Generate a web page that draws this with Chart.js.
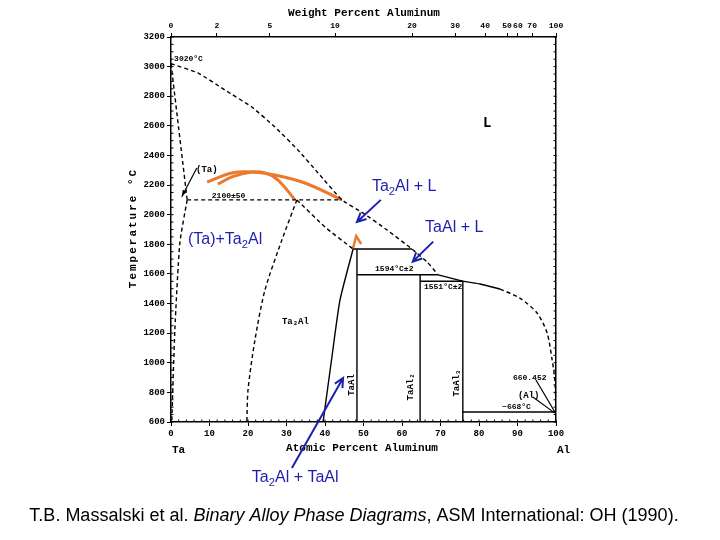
<!DOCTYPE html>
<html>
<head>
<meta charset="utf-8">
<script src="https://cdn.jsdelivr.net/npm/chart.js@4.4.0/dist/chart.umd.min.js"></script>
<style>
  html, body { margin: 0; background: #fff; }
  #wrap { width: 720px; height: 540px; }
</style>
</head>
<body>
<div id="wrap"><canvas id="chart"></canvas></div>
<script>
"use strict"

// phase boundaries, [atomic % Al, temperature C]
const liquidus = [[0, 3020], [7, 2957], [14, 2842], [21, 2727], [27, 2592], [33, 2436], [38.2, 2282], [44.4, 2100],
  [49.9, 2011], [56.1, 1897], [62.6, 1768], [66.5, 1681], [69.4, 1594]]
const liquidusAl = [[69.4, 1594], [75.8, 1551], [80.3, 1532], [85.5, 1498]]
const liquidusAlDash = [[85.5, 1498], [90.6, 1437], [95.1, 1336], [97.7, 1201], [99.0, 1019], [99.7, 884], [100, 668]]
const solidusTa = [[0, 3020], [4.2, 2100]]
const solvusTa = [[4.2, 2100], [2.3, 1809], [1.0, 1221], [0.2, 600]]
const peritectic2100 = [[4.2, 2100], [44.4, 2100]]
const ta2alLeft = [[32.7, 2100], [28.8, 1829], [24.4, 1491], [21.8, 1154], [20.0, 816], [19.7, 600]]
const ta2alTop = [[32.7, 2100], [40, 1917], [47.3, 1768]]
const ta2alRight = [[47.3, 1768], [43.9, 1424], [41.8, 1039], [39.5, 600]]
const line1768 = [[47.3, 1768], [62.6, 1768]]
const taAl = [[48.3, 1768], [48.3, 600]]
const line1594 = [[48.3, 1594], [69.4, 1594]]
const taAl2 = [[64.7, 1594], [64.7, 600]]
const line1551 = [[64.7, 1551], [75.8, 1551]]
const taAl3 = [[75.8, 1551], [75.8, 600]]
const line668 = [[75.8, 668], [100, 668]]

// orange hand drawn corrections
const orangeA = [[9.4, 2221], [15.8, 2282], [21.0, 2288], [27.0, 2268], [34.8, 2214], [44.4, 2100]]
const orangeB = [[12.2, 2207], [15.8, 2255], [21.0, 2288], [24.4, 2282], [27.8, 2234], [32.2, 2100]]
const orangeCaret = [[47.3, 1775], [48.1, 1856], [49.4, 1802]]

// blue arrows [from, to]
const arrowTa2AlL = [[54.5, 2100], [48.3, 1951]]
const arrowTaAlL = [[68.1, 1818], [62.8, 1683]]
const arrowTa2AlTaAl = [[31.4, 289], [44.7, 897]]

// axes
const tempTicks = [600, 800, 1000, 1200, 1400, 1600, 1800, 2000, 2200, 2400, 2600, 2800, 3000, 3200]
const wtTickLabels = ['0', '2', '5', '10', '20', '30', '40', '50', '60', '70', '100']
const wtTickAt = [0, 11.9, 25.7, 42.6, 62.6, 73.8, 81.6, 87.3, 90.1, 93.8, 100]

const MONO = "'Liberation Mono', 'DejaVu Sans Mono', monospace"
const SANS = "'Liberation Sans', Arial, sans-serif"
const BLUE = '#1f1fae'
const ORANGE = '#ec7a2c'

function pts(arr) {
  return arr.map(p => ({x: p[0], y: p[1]}))
}

function boundary(arr, dashed, tension) {
  return {
    data: pts(arr),
    showLine: true,
    borderColor: '#000',
    borderWidth: 1.4,
    borderDash: dashed ? [4, 3] : [],
    pointRadius: 0,
    tension: tension || 0,
  }
}

function orange(arr) {
  return {
    data: pts(arr),
    showLine: true,
    borderColor: ORANGE,
    borderWidth: 3,
    pointRadius: 0,
    tension: 0.35,
  }
}

function richText(ctx, parts, x, y, size) {
  let cx = x
  for (let p of parts) {
    if (p.sub) {
      ctx.font = (size * 0.7) + "px " + SANS
      ctx.fillText(p.t, cx, y + size * 0.3)
    } else {
      ctx.font = size + "px " + SANS
      ctx.fillText(p.t, cx, y)
    }
    cx += ctx.measureText(p.t).width
  }
}

function arrow(ctx, a, sx, sy) {
  let x1 = sx.getPixelForValue(a[0][0]), y1 = sy.getPixelForValue(a[0][1])
  let x2 = sx.getPixelForValue(a[1][0]), y2 = sy.getPixelForValue(a[1][1])
  let ang = Math.atan2(y2 - y1, x2 - x1)
  ctx.beginPath()
  ctx.moveTo(x1, y1)
  ctx.lineTo(x2, y2)
  ctx.moveTo(x2 - 10 * Math.cos(ang - 0.45), y2 - 10 * Math.sin(ang - 0.45))
  ctx.lineTo(x2, y2)
  ctx.lineTo(x2 - 10 * Math.cos(ang + 0.45), y2 - 10 * Math.sin(ang + 0.45))
  ctx.stroke()
}

const decorations = {
  id: 'decorations',
  afterDraw(chart) {
    const ctx = chart.ctx
    const sx = chart.scales.x
    const sy = chart.scales.y
    const X = v => sx.getPixelForValue(v)
    const Y = v => sy.getPixelForValue(v)
    const area = chart.chartArea
    ctx.save()

    // minor ticks
    ctx.strokeStyle = '#000'
    ctx.lineWidth = 1
    ctx.beginPath()
    for (let v = 0; v <= 100; v += 2) {
      ctx.moveTo(X(v), area.bottom)
      ctx.lineTo(X(v), area.bottom - 2.5)
    }
    for (let t = 600; t <= 3200; t += 50) {
      ctx.moveTo(area.left, Y(t))
      ctx.lineTo(area.left + 2.5, Y(t))
      ctx.moveTo(area.right, Y(t))
      ctx.lineTo(area.right - 2.5, Y(t))
    }
    ctx.stroke()

    // axis titles
    ctx.fillStyle = '#000'
    ctx.font = "bold 11px " + MONO
    ctx.textAlign = 'center'
    ctx.textBaseline = 'middle'
    ctx.fillText('Weight Percent Aluminum', 364, 13)
    ctx.fillText('Atomic Percent Aluminum', 362, 448)
    ctx.textAlign = 'left'
    ctx.fillText('Ta', 172, 450)
    ctx.fillText('Al', 557, 450)

    ctx.save()
    ctx.translate(133, 228)
    ctx.rotate(-Math.PI / 2)
    ctx.textAlign = 'center'
    ctx.font = "bold 11px " + MONO
    ctx.letterSpacing = '2px'
    ctx.fillText('Temperature \u00b0C', 0, 0)
    ctx.restore()

    // black labels inside the diagram
    ctx.textAlign = 'left'
    ctx.font = "bold 8px " + MONO
    ctx.fillText('3020\u00b0C', X(0.8), Y(3051))
    ctx.fillText('2100\u00b150', X(10.6), Y(2126))
    ctx.fillText('1594\u00b0C\u00b12', X(53.0), Y(1633))
    ctx.fillText('1551\u00b0C\u00b12', X(65.7), Y(1512))
    ctx.fillText('~668\u00b0C', X(86.0), Y(701))
    ctx.fillText('660.452', X(88.8), Y(897))
    ctx.font = "bold 9px " + MONO
    ctx.fillText('(Ta)', X(6.5), Y(2302))
    ctx.fillText('(Al)', X(90.1), Y(776))
    ctx.fillText('Ta\u2082Al', X(28.8), Y(1275))
    ctx.font = "bold 14px " + MONO
    ctx.textAlign = 'center'
    ctx.fillText('L', X(82.1), Y(2619))

    ctx.font = "bold 9px " + MONO
    let vertical = [['TaAl', 47.0, 850], ['TaAl\u2082', 62.3, 837], ['TaAl\u2083', 74.3, 863]]
    for (let v of vertical) {
      ctx.save()
      ctx.translate(X(v[1]), Y(v[2]))
      ctx.rotate(-Math.PI / 2)
      ctx.fillText(v[0], 0, 0)
      ctx.restore()
    }

    // pointer lines for small labels
    ctx.lineWidth = 1.2
    ctx.beginPath()
    ctx.moveTo(X(6.7), Y(2315)); ctx.lineTo(X(2.8), Y(2121))
    ctx.moveTo(X(94.8), Y(884)); ctx.lineTo(X(99.7), Y(668))
    ctx.moveTo(X(94.0), Y(769)); ctx.lineTo(X(99.7), Y(660))
    ctx.stroke()
    ctx.beginPath()
    ctx.moveTo(X(2.8), Y(2121))
    ctx.lineTo(X(2.8) + 1, Y(2121) - 7)
    ctx.lineTo(X(2.8) + 5, Y(2121) - 5)
    ctx.closePath()
    ctx.fill()

    // blue annotations
    ctx.strokeStyle = BLUE
    ctx.fillStyle = BLUE
    ctx.lineWidth = 2
    arrow(ctx, arrowTa2AlL, sx, sy)
    arrow(ctx, arrowTaAlL, sx, sy)
    arrow(ctx, arrowTa2AlTaAl, sx, sy)
    ctx.textAlign = 'left'
    ctx.textBaseline = 'middle'
    richText(ctx, [{t: 'Ta'}, {t: '2', sub: true}, {t: 'Al + L'}], X(52.2), Y(2187), 16)
    richText(ctx, [{t: 'TaAl + L'}], X(66.0), Y(1910), 16)
    richText(ctx, [{t: '(Ta)+Ta'}, {t: '2', sub: true}, {t: 'Al'}], X(4.4), Y(1829), 16)
    richText(ctx, [{t: 'Ta'}, {t: '2', sub: true}, {t: 'Al + TaAl'}], X(21.0), Y(222), 16)

    // citation
    ctx.fillStyle = '#000'
    ctx.textBaseline = 'middle'
    let citation = [
      {t: 'T.B. Massalski et al. ', s: ''},
      {t: 'Binary Alloy Phase Diagrams', s: 'italic '},
      {t: ', ASM International: OH (1990).', s: ''}
    ]
    let total = 0
    for (let c of citation) {
      ctx.font = c.s + "18px " + SANS
      total += ctx.measureText(c.t).width
    }
    let cx = 354 - total / 2
    for (let c of citation) {
      ctx.font = c.s + "18px " + SANS
      ctx.fillText(c.t, cx, 516)
      cx += ctx.measureText(c.t).width
    }
    ctx.restore()
  }
}

const tickFont = {family: MONO, size: 9, weight: 'bold'}
const plain = v => String(v)

const graph = new Chart(document.getElementById('chart'), {
  type: 'scatter',
  data: {
    datasets: [
      boundary(liquidus, true, 0.15),
      boundary(liquidusAl, false, 0.15),
      boundary(liquidusAlDash, true, 0.25),
      boundary(solidusTa, true),
      boundary(solvusTa, true, 0.2),
      boundary(peritectic2100, true),
      boundary(ta2alLeft, true, 0.25),
      boundary(ta2alTop, true, 0.2),
      boundary(ta2alRight, false, 0.2),
      boundary(line1768, false),
      boundary(taAl, false),
      boundary(line1594, false),
      boundary(taAl2, false),
      boundary(line1551, false),
      boundary(taAl3, false),
      boundary(line668, false),
      orange(orangeA),
      orange(orangeB),
      {data: pts(orangeCaret), showLine: true, borderColor: ORANGE, borderWidth: 2.5, pointRadius: 0, tension: 0},
    ]
  },
  options: {
    responsive: true,
    maintainAspectRatio: false,
    animation: false,
    layout: {padding: 0},
    plugins: {legend: {display: false}, tooltip: {enabled: false}},
    scales: {
      x: {
        type: 'linear', position: 'bottom', min: 0, max: 100,
        afterFit: s => { s.height = 118 },
        ticks: {stepSize: 10, font: tickFont, color: '#000', padding: 2, maxRotation: 0, callback: plain},
        grid: {drawOnChartArea: false, tickLength: 4, color: '#000'},
        border: {color: '#000', width: 1.5}
      },
      xTop: {
        type: 'linear', position: 'top', min: 0, max: 100,
        afterFit: s => { s.height = 37 },
        afterBuildTicks: s => { s.ticks = wtTickAt.map(v => ({value: v})) },
        ticks: {font: {family: MONO, size: 8, weight: 'bold'}, color: '#000', padding: 2, maxRotation: 0, autoSkip: false,
          callback: (v, i) => wtTickLabels[i]},
        grid: {drawOnChartArea: false, tickLength: 4, color: '#000'},
        border: {color: '#000', width: 1.5}
      },
      y: {
        type: 'linear', position: 'left', min: 600, max: 3200,
        afterFit: s => { s.width = 171 },
        afterBuildTicks: s => { s.ticks = tempTicks.map(v => ({value: v})) },
        ticks: {font: tickFont, color: '#000', padding: 2, callback: plain},
        grid: {drawOnChartArea: false, tickLength: 4, color: '#000'},
        border: {color: '#000', width: 1.5}
      },
      yRight: {
        type: 'linear', position: 'right', min: 600, max: 3200,
        afterFit: s => { s.width = 164 },
        afterBuildTicks: s => { s.ticks = tempTicks.map(v => ({value: v})) },
        ticks: {display: false},
        grid: {drawOnChartArea: false, tickLength: 0, color: '#000'},
        border: {color: '#000', width: 1.5}
      }
    }
  },
  plugins: [decorations]
})
</script>
</body>
</html>
